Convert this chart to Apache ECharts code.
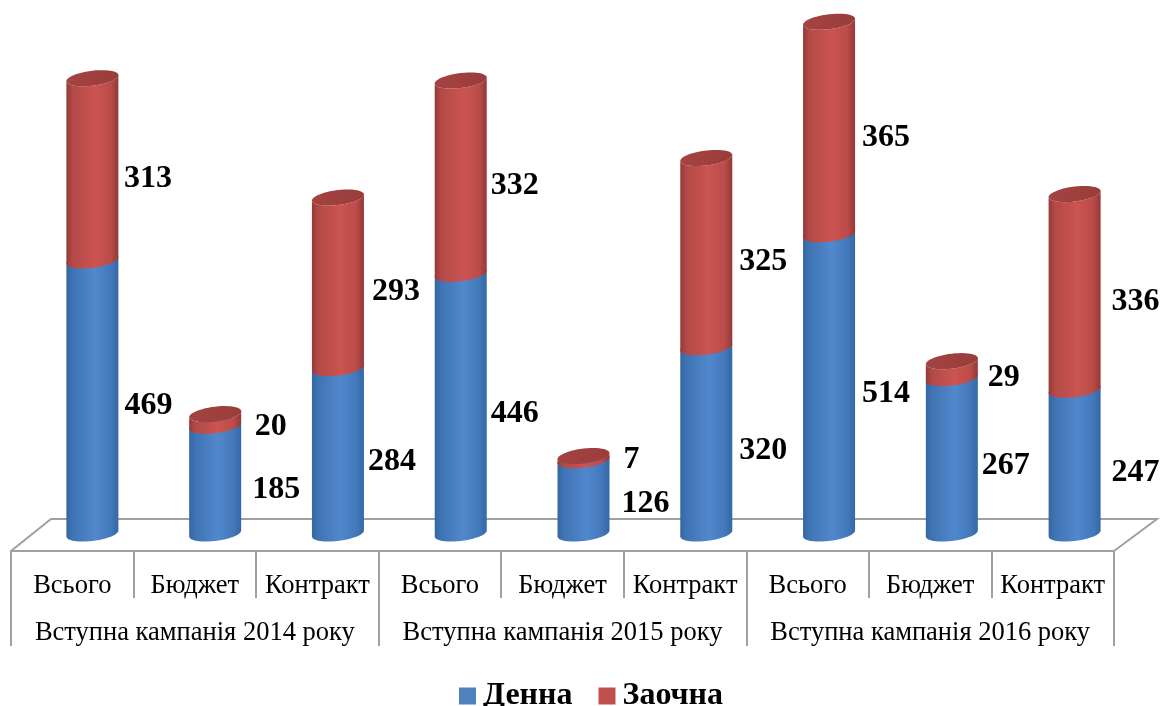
<!DOCTYPE html>
<html><head><meta charset="utf-8">
<style>html,body{margin:0;padding:0;background:#fff}#c{width:1165px;height:706px}</style>
<script src="https://cdn.jsdelivr.net/npm/echarts@6/dist/echarts.min.js"></script>
</head><body><div id="c"></div>
<script>
const categories = ['Всього','Бюджет','Контракт','Всього','Бюджет','Контракт','Всього','Бюджет','Контракт'];
const campaigns = ['Вступна кампанія 2014 року','Вступна кампанія 2015 року','Вступна кампанія 2016 року'];
const fullTime = [469,185,284,446,126,320,514,267,247];
const partTime = [313,20,293,332,7,325,365,29,336];
// label nudges (px) relative to the default spot beside each cylinder segment
const fullNudge = [[-1,9],[4,10],[-3,11],[-3,10],[5,7],[0,10],[0,10],[-3,10],[4,11]];
const partNudge = [[-1.5,9],[-1.5,7],[1,9],[-3,9],[-9,2],[0,9],[0,10],[-5,8],[4,10]];

const RX = 26, RY = 7.5, TILT = 3;
const serif = '"Liberation Serif","Times New Roman",serif';
const grey = '#a0a0a0';

function pt(cx, cy, t){ return [cx + RX*Math.cos(t), cy + RY*Math.sin(t) - TILT*Math.cos(t)]; }
function arc(cx, cy, a, b, n){ const r=[]; for(let i=0;i<=n;i++){ r.push(pt(cx,cy,a+(b-a)*i/n)); } return r; }
function grad(stops){ return new echarts.graphic.LinearGradient(0,0,1,0,stops.map((c)=>({offset:c[0],color:c[1]}))); }

const blueFill = ()=>grad([[0,'#3566a0'],[0.12,'#3f74b4'],[0.55,'#5188cc'],[0.85,'#4379bb'],[1,'#3468a6']]);
const redFill  = ()=>grad([[0,'#973937'],[0.12,'#b34a47'],[0.55,'#cb5451'],[0.85,'#ba4c49'],[1,'#953836']]);

function cylinder(kind, nudges){
  return function(params, api){
    const i = api.value(0), val = api.value(1), base = api.value(2);
    const p0 = api.coord([i, base]), p1 = api.coord([i, base + val]);
    const cx = p0[0], yb = p0[1], yt = p1[1];
    const children = [];
    if (kind === 'full') {
      const pts = arc(cx, yb, Math.PI, 0, 24).concat(arc(cx, yt, 0, -Math.PI, 24));
      children.push({type:'polygon', shape:{points:pts}, style:{fill:blueFill()}});
    } else {
      const pts = arc(cx, yb, Math.PI, 0, 24).concat(arc(cx, yt, 0, Math.PI, 24));
      children.push({type:'polygon', shape:{points:pts}, style:{fill:redFill()}});
      children.push({type:'polygon', shape:{points:arc(cx, yt, 0, 2*Math.PI, 48)},
        style:{fill:grad([[0,'#a34442'],[1,'#9a3c3a']])}});
    }
    const n = nudges[i];
    children.push({type:'text', style:{
      text:String(val), x:cx+57+n[0], y:(yb+yt)/2+n[1], align:'center', verticalAlign:'middle',
      font:'bold 32px '+serif, fill:'#000'}});
    return {type:'group', children};
  };
}

const chart = echarts.init(document.getElementById('c'), null, {renderer:'canvas'});
chart.setOption({
  animation:false,
  backgroundColor:'#fff',
  legend:{
    data:['Денна','Заочна'], left:454, top:675, icon:'rect', itemWidth:17, itemHeight:17, itemGap:26,
    selectedMode:false,
    textStyle:{fontFamily:serif, fontWeight:'bold', fontSize:32, color:'#000', padding:[2,0,0,2]}
  },
  graphic:[{
    type:'polyline', z:0, silent:true,
    shape:{points:[[11,551],[51,519],[1157,519],[1114,551]]},
    style:{stroke:grey, lineWidth:2, fill:null}
  }],
  grid:[
    {left:31, width:1105, top:9.5, bottom:172.5, containLabel:false},
    {left:11, width:1103, top:531, height:20}
  ],
  xAxis:[
    {type:'category', gridIndex:0, data:categories, show:false},
    {type:'category', gridIndex:1, data:categories, position:'bottom',
      axisLine:{show:true, lineStyle:{color:grey, width:2}},
      axisTick:{show:true, alignWithLabel:false, length:47, lineStyle:{color:grey, width:2}},
      axisLabel:{interval:0, margin:22, fontFamily:serif, fontSize:26.5, color:'#000'}},
    {type:'category', gridIndex:1, data:campaigns, position:'bottom',
      axisLine:{show:false},
      axisTick:{show:true, alignWithLabel:false, length:95, lineStyle:{color:grey, width:2}},
      axisLabel:{interval:0, margin:69, fontFamily:serif, fontSize:26.5, color:'#000'}}
  ],
  yAxis:[
    {type:'value', gridIndex:0, min:0, max:900, show:false},
    {type:'value', gridIndex:1, show:false}
  ],
  series:[
    {name:'Денна', type:'custom', xAxisIndex:0, yAxisIndex:0, z:3, clip:false,
      itemStyle:{color:'#4f81bd'},
      renderItem:cylinder('full', fullNudge),
      encode:{x:0,y:1},
      data:fullTime.map((v,i)=>[i,v,0])},
    {name:'Заочна', type:'custom', xAxisIndex:0, yAxisIndex:0, z:4, clip:false,
      itemStyle:{color:'#c0504d'},
      renderItem:cylinder('part', partNudge),
      encode:{x:0,y:1},
      data:partTime.map((v,i)=>[i,v,fullTime[i]])}
  ]
});
</script></body></html>
